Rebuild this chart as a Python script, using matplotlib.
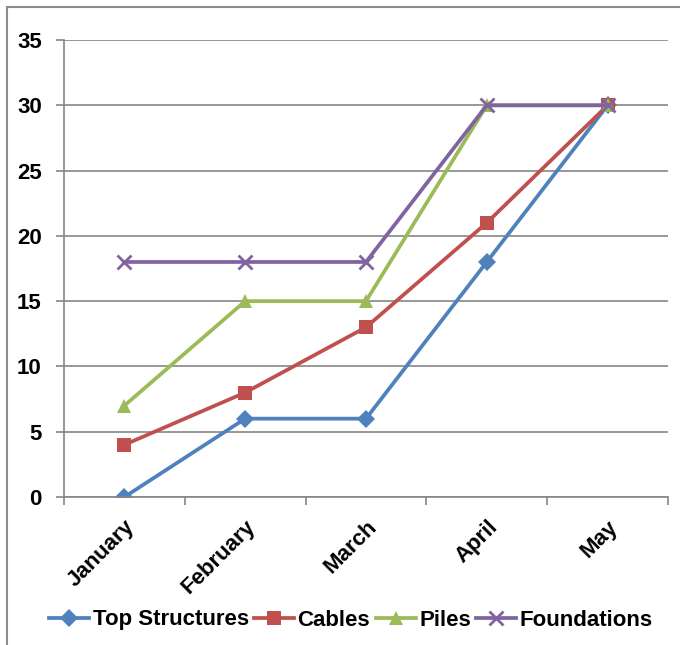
import matplotlib
matplotlib.use("Agg")
import matplotlib.pyplot as plt
from matplotlib.patches import Rectangle

months = ["January", "February", "March", "April", "May"]
top_structures = [0, 6, 6, 18, 30]
cables = [4, 8, 13, 21, 30]
piles = [7, 15, 15, 30, 30]
foundations = [18, 18, 18, 30, 30]
yticks = [0, 5, 10, 15, 20, 25, 30, 35]

series = [
    ("Top Structures", top_structures, "#4F81BD", "D", 9.5),
    ("Cables", cables, "#C0504D", "s", 10),
    ("Piles", piles, "#9BBB59", "^", 10.5),
    ("Foundations", foundations, "#8064A2", "x", 9.5),
]

FS = 16
plt.rcParams['font.family'] = ['Liberation Sans', 'DejaVu Sans']
fig = plt.figure(figsize=(6.8, 6.45), dpi=100)
ax = fig.add_axes([64/680, 1 - 497/645, (668-64)/680, (497-40)/645])

x = list(range(len(months)))
for name, vals, col, mk, ms in series:
    kw = dict(markeredgewidth=2) if mk == "x" else dict(markeredgewidth=0)
    ax.plot(x, vals, color=col, lw=2.7, marker=mk, markersize=ms,
            markerfacecolor=col, markeredgecolor=col, label=name, **kw)

ax.set_xlim(-0.5, len(months) - 0.5)
ax.set_ylim(0, 35)
ax.set_yticks(yticks)
ax.set_yticklabels([str(v) for v in yticks], fontsize=FS, fontweight='bold')
ax.grid(axis='y', color='#868686', lw=1.2)
ax.set_axisbelow(True)
ax.tick_params(axis='y', length=6, width=1.2, color='#868686', pad=10)

ax.set_xticks([i - 0.5 for i in range(len(months) + 1)])
ax.set_xticklabels([])
ax.set_xticks(x, minor=True)
ax.set_xticklabels(months, minor=True, rotation=45, ha='right',
                   rotation_mode='anchor', fontsize=FS, fontweight='bold')
ax.tick_params(axis='x', which='major', length=6, width=1.2, color='#868686')
ax.tick_params(axis='x', which='minor', length=0, pad=14)

for s in ['top', 'right']:
    ax.spines[s].set_visible(False)
for s in ['left', 'bottom']:
    ax.spines[s].set_color('#868686')
    ax.spines[s].set_linewidth(1.2)

leg = fig.legend(loc='center', bbox_to_anchor=(351/680, 1 - 620/645), ncol=4,
                 frameon=False, prop={'size': FS, 'weight': 'bold'},
                 handlelength=1.8, handletextpad=0.15, columnspacing=0.25,
                 borderpad=0, borderaxespad=0)

fig.patches.append(Rectangle((7/680, -0.1), 1.2, 1 - 7/645 + 0.1,
                             transform=fig.transFigure, fill=False,
                             edgecolor='#8c8c8c', lw=1.5))

fig.savefig("out.png", dpi=100)
